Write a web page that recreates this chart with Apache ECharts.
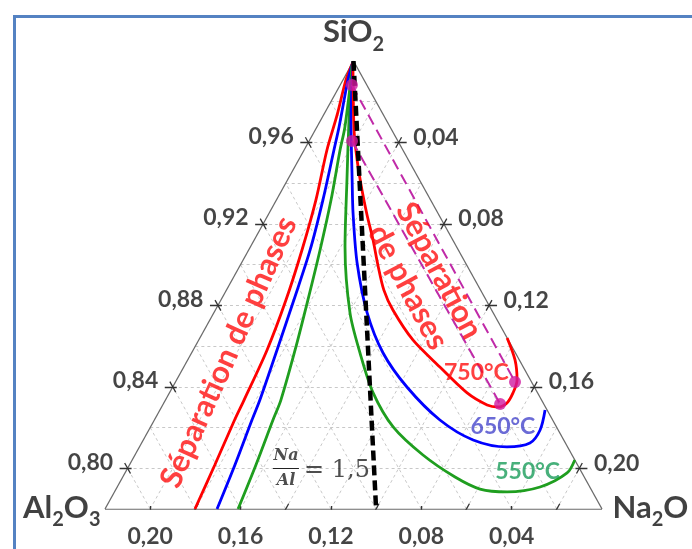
<!DOCTYPE html>
<html><head><meta charset="utf-8">
<script src="https://cdn.jsdelivr.net/npm/echarts/dist/echarts.min.js"></script>
<style>html,body{margin:0;padding:0;background:#fff;}#c{width:692px;height:549px;}</style>
</head><body><div id="c"></div>
<script>
// Compositions: [SiO2 %, Na2O %]  (Al2O3 = 100 - SiO2 - Na2O)
const red750Left = [[99.85,0.01],[99.07,0.13],[97.35,0.60],[95.63,1.01],[93.17,1.75],[90.72,2.36],[88.26,2.88],[85.81,3.27],[83.35,3.48],[82.37,3.55],[80.16,3.78],[78.0,3.98]];
const blue650Left = [[99.95,0.0],[99.07,0.22],[96.76,0.98],[95.63,1.32],[93.17,2.06],[90.72,2.72],[88.26,3.23],[85.81,3.71],[83.35,4.18],[82.37,4.32],[80.16,4.67],[78.0,4.96]];
const green550Left = [[99.95,0.0],[96.76,1.24],[95.63,1.59],[93.17,2.42],[90.72,3.16],[88.26,3.85],[85.81,4.51],[83.35,5.11],[82.37,5.25],[80.16,5.60],[78.0,5.89]];
const red750Right = [[99.95,0.0],[96.61,1.72],[95.14,2.59],[93.67,3.54],[92.44,4.38],[91.21,5.26],[89.98,6.09],[88.75,6.97],[87.77,7.86],[86.30,9.48],[84.97,11.34],[83.70,13.18],[83.11,14.36],[83.01,14.89],[83.21,15.19],[83.70,15.21],[84.34,15.07],[85.32,14.49],[86.40,13.60]];
const blue650Right = [[99.95,0.0],[97.10,1.34],[94.16,2.86],[92.54,3.71],[90.08,5.12],[87.63,6.79],[85.66,8.48],[83.99,10.37],[82.37,12.64],[81.39,14.60],[81.05,16.27],[81.24,17.19],[81.88,17.32],[82.86,17.05]];
const green550Right = [[99.80,0.03],[97.10,1.25],[94.16,2.63],[90.87,4.19],[87.63,6.03],[85.66,7.46],[83.70,9.02],[82.03,10.74],[80.65,12.75],[79.57,14.71],[78.98,16.11],[78.84,17.38],[79.08,18.72],[79.77,19.57],[80.41,19.59]];
const naAlLine = [[100.0,0.0],[78.0,12.0]];
const pinkDots = [[98.82,0.52],[96.07,1.90],[84.24,15.03],[83.16,14.91]];
const pinkLines = [[0,2],[1,3]];

// axis ticks and labels
const gridSteps = [2,4,6,8,10,12,14,16,18,20];
const siTicks = [80,84,88,92,96];
const siLabels = ['0,80','0,84','0,88','0,92','0,96'];
const naTicks = [4,8,12,16,20];
const naLabels = ['0,04','0,08','0,12','0,16','0,20'];
const alTicks = [20,16,12,8,4];
const alLabels = ['0,20','0,16','0,12','0,08','0,04'];
const alMinor = [18,14,10,6,2];

// annotation anchors [SiO2 %, Na2O %]
const leftTextPos = [85.70,1.62];
const rightTextPos = [89.30,8.45];
const t750Pos = [84.68,13.10];
const t650Pos = [82.03,15.60];
const t550Pos = [79.82,17.80];
const fracPos = [80.01,7.01];
const fracBar = [[80.01,6.43],[80.01,7.58]];

const SI_MIN = 78, SPAN = 22;
function P(si, na){ const s=(si-SI_MIN)/SPAN, n=na/SPAN; return [n+s/2, s]; }
const PX = 497, PY = 448; // grid size in px (for tick lengths only)
const FONT = 'Lato, "Open Sans", sans-serif';
const SERIF = '"DejaVu Serif", "Liberation Serif", serif';

// grid lines
const gridData = [];
gridSteps.forEach(g=>{
  gridData.push({coords:[P(100-g,0),P(100-g,g)]});
  gridData.push({coords:[P(78,g),P(100-g,g)]});
  gridData.push({coords:[P(78,22-g),P(100-g,0)]});
});
const edges = [{coords:[P(78,0),P(100,0)]},{coords:[P(100,0),P(78,22)]},{coords:[P(78,22),P(78,0)]}];
// tick marks
const tickData = [];
const ex = 0.5*6/512.6, ey = 1*6/512.6;
siTicks.forEach(v=>{ const p=P(v,0);
  tickData.push({coords:[[p[0]-8/PX,p[1]],[p[0]+4/PX,p[1]]]});
  tickData.push({coords:[[p[0]-ex,p[1]+ey],[p[0]+ex,p[1]-ey]]});
});
naTicks.forEach(v=>{ const p=P(100-v,v);
  tickData.push({coords:[[p[0]-4/PX,p[1]],[p[0]+8/PX,p[1]]]});
  tickData.push({coords:[[p[0]-ex,p[1]-ey],[p[0]+ex,p[1]+ey]]});
});
alTicks.forEach(v=>{ const p=P(78,22-v);
  tickData.push({coords:[[p[0],p[1]+3/PY],[p[0],p[1]-9/PY]]});
});
alMinor.forEach(v=>{ const p=P(78,22-v);
  tickData.push({coords:[[p[0]-0.3*ex,p[1]-0.3*ey],[p[0]+1.0*ex,p[1]+1.0*ey]]});
});

function curve(pts, color, w){
  return {type:'line', data:pts.map(p=>P(p[0],p[1])), smooth:0.3, symbol:'none', silent:true, z:3,
    lineStyle:{color:color, width:w||2.8}};
}
function lbl(pos, fmt, opt){
  return {value:P(pos[0],pos[1]), label:Object.assign({show:true, formatter:fmt}, opt)};
}
const tickLbl = {fontFamily:FONT, fontWeight:'bold', fontSize:23, color:'#161616'};
const richCorner = {
  a:{fontFamily:FONT, fontWeight:'bold', fontSize:31, color:'#111', lineHeight:38, verticalAlign:'top'},
  b:{fontFamily:FONT, fontWeight:'bold', fontSize:20, color:'#111', lineHeight:38, verticalAlign:'bottom'}
};

const labelData = [];
siTicks.forEach((v,i)=>labelData.push(lbl([v,0], siLabels[i], Object.assign({position:'left', distance:14, offset:[0,-6]}, tickLbl))));
naTicks.forEach((v,i)=>labelData.push(lbl([100-v,v], naLabels[i], Object.assign({position:'right', distance:14, offset:[0,-5]}, tickLbl))));
alTicks.forEach((v,i)=>labelData.push(lbl([78,22-v], alLabels[i], Object.assign({position:'bottom', distance:16}, tickLbl))));
labelData.push(lbl([100,0], '{a|SiO}{b|2}', {position:'top', distance:6, rich:richCorner}));
labelData.push(lbl([78,0], '{a|Al}{b|2}{a|O}{b|3}', {position:'left', distance:4, offset:[0,2], rich:richCorner}));
labelData.push(lbl([78,22], '{a|Na}{b|2}{a|O}', {position:'right', distance:10, offset:[0,2], rich:richCorner}));
labelData.push(lbl(leftTextPos, 'Séparation de phases', {position:'inside', rotate:66, fontFamily:FONT, fontWeight:'bold', fontSize:31, color:'#ff1010'}));
labelData.push(lbl(rightTextPos, 'Séparation\nde phases', {position:'inside', rotate:-62, fontFamily:FONT, fontWeight:'bold', fontSize:31, lineHeight:35, align:'center', color:'#ff1010'}));
labelData.push(lbl(t750Pos, '750°C', {position:'inside', fontFamily:FONT, fontWeight:'bold', fontSize:23, color:'#ff1010'}));
labelData.push(lbl(t650Pos, '650°C', {position:'inside', fontFamily:FONT, fontWeight:'bold', fontSize:23, color:'#4646cc'}));
labelData.push(lbl(t550Pos, '550°C', {position:'inside', fontFamily:FONT, fontWeight:'bold', fontSize:23, color:'#1a9c5a'}));
labelData.push(lbl(fracPos, 'Na', {position:'inside', offset:[0,-12], fontFamily:SERIF, fontStyle:'italic', fontWeight:'bold', fontSize:16, color:'#222'}));
labelData.push(lbl(fracPos, 'Al', {position:'inside', offset:[0,13], fontFamily:SERIF, fontStyle:'italic', fontWeight:'bold', fontSize:16, color:'#222'}));
labelData.push(lbl(fracPos, '= 1,5', {position:'inside', offset:[51,3], fontFamily:SERIF, fontSize:24, color:'#222'}));

const chart = echarts.init(document.getElementById('c'), null, {renderer:'canvas'});
chart.setOption({
  animation:false,
  backgroundColor:'#ffffff',
  grid:{left:105, top:61, width:PX, height:PY},
  xAxis:{type:'value', min:0, max:1, show:false},
  yAxis:{type:'value', min:0, max:1, show:false},
  graphic:[{type:'rect', left:12, top:14, shape:{width:700, height:560}, style:{fill:'none', stroke:'#5482c2', lineWidth:3}, z:100}],
  series:[
    {type:'lines', coordinateSystem:'cartesian2d', data:gridData, silent:true, z:1,
      lineStyle:{color:'#c8c8c8', width:1, type:[3,3], opacity:1}},
    {type:'lines', coordinateSystem:'cartesian2d', data:edges, silent:true, z:2,
      lineStyle:{color:'#6a6a6a', width:1.3, opacity:1}},
    {type:'lines', coordinateSystem:'cartesian2d', data:tickData, silent:true, z:2,
      lineStyle:{color:'#333', width:1.3, opacity:1}},
    curve(red750Left,'#ff0000'), curve(blue650Left,'#0000ff'), curve(green550Left,'#1f9e1f'),
    curve(green550Right,'#1f9e1f'), curve(blue650Right,'#0000ff'), curve(red750Right,'#ff0000'),
    {type:'lines', coordinateSystem:'cartesian2d', silent:true, z:4,
      data:pinkLines.map(l=>({coords:[P(pinkDots[l[0]][0],pinkDots[l[0]][1]),P(pinkDots[l[1]][0],pinkDots[l[1]][1])]})),
      lineStyle:{color:'#c02aa8', width:2, type:[11,6], opacity:1}},
    {type:'line', data:naAlLine.map(p=>P(p[0],p[1])), symbol:'none', silent:true, z:5,
      lineStyle:{color:'#000', width:4.5, type:[10,5]}},
    {type:'lines', coordinateSystem:'cartesian2d', silent:true, z:5,
      data:[{coords:fracBar.map(p=>P(p[0],p[1]))}], lineStyle:{color:'#222', width:1.2, opacity:1}},
    {type:'scatter', data:pinkDots.map(p=>P(p[0],p[1])), symbolSize:12, silent:true, z:6,
      itemStyle:{color:'#d01aa0'}},
    {type:'scatter', data:labelData, symbolSize:1, silent:true, z:7, itemStyle:{color:'transparent'}}
  ]
});
</script></body></html>
